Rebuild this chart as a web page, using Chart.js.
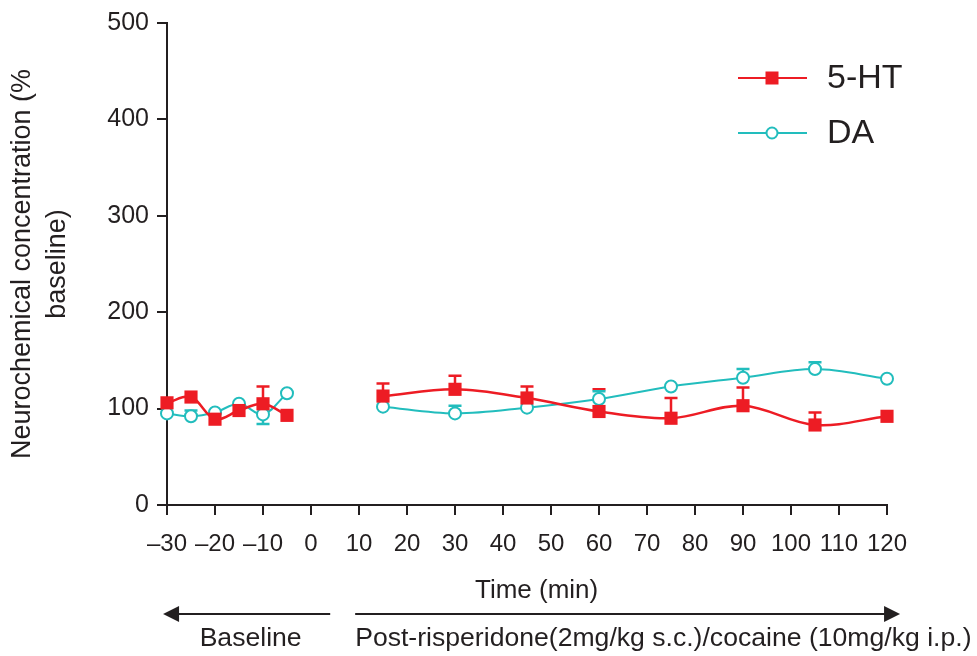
<!DOCTYPE html>
<html>
<head>
<meta charset="utf-8">
<script src="https://cdn.jsdelivr.net/npm/chart.js@4.4.0/dist/chart.umd.min.js"></script>
<style>
html,body{margin:0;padding:0;background:#fff;}
#wrap{width:977px;height:656px;position:relative;}
</style>
</head>
<body>
<div id="wrap"><canvas id="c" width="977" height="656"></canvas></div>
<script>
// ---- data ----
const baselineTimes = [-30, -25, -20, -15, -10, -5];
const postTimes = [15, 30, 45, 60, 75, 90, 105, 120];
const ht5Baseline = [106, 112, 89, 98, 105, 93];
const ht5Post = [113, 120, 111, 97, 90, 103, 83, 92];
const ht5UpperBaseline = [null, null, null, null, 123, null];
const ht5UpperPost = [126, 134, 123, 120, 111, 122, 96, null];
const daBaseline = [95, 92, 96, 105, 94, 116];
const daPost = [102, 95, 101, 110, 123, 132, 141, 131];
const daUpperBaseline = [null, 98, null, null, null, null];
const daUpperPost = [null, 103, null, 118, null, 141, 148, null];
const daLowerBaseline = [null, null, null, null, 84, null];
const daLowerPost = [null, null, null, null, null, null, null, null];
const yTicks = [0, 100, 200, 300, 400, 500];
const seriesNames = ['5-HT', 'DA'];
const periodLabels = ['Baseline', 'Post-risperidone(2mg/kg s.c.)/cocaine (10mg/kg i.p.)'];
const xTitle = 'Time (min)';
const yTitle = ['Neurochemical concentration (%', 'baseline)'];

const RED = '#ED1C24';
const TEAL = '#22BDBD';
const INK = '#231F20';
const FONT = 'Liberation Sans, Arial, Helvetica, sans-serif';

function buildPoints(bt, bv, pt, pv) {
  const pts = bt.map((t, i) => ({x: t, y: bv[i]}));
  pts.push({x: (bt[bt.length - 1] + pt[0]) / 2, y: null}); // break between periods
  pt.forEach((t, i) => pts.push({x: t, y: pv[i]}));
  return pts;
}
function buildErr(bt, bv, pt, pv) {
  const out = [];
  bt.forEach((t, i) => { if (bv[i] != null) out.push({x: t, v: bv[i]}); });
  pt.forEach((t, i) => { if (pv[i] != null) out.push({x: t, v: pv[i]}); });
  return out;
}

const errBars = [
  {color: RED, pts: buildErr(baselineTimes, ht5UpperBaseline, postTimes, ht5UpperPost), base: buildPoints(baselineTimes, ht5Baseline, postTimes, ht5Post)},
  {color: TEAL, pts: buildErr(baselineTimes, daUpperBaseline, postTimes, daUpperPost), base: buildPoints(baselineTimes, daBaseline, postTimes, daPost)},
  {color: TEAL, pts: buildErr(baselineTimes, daLowerBaseline, postTimes, daLowerPost), base: buildPoints(baselineTimes, daBaseline, postTimes, daPost)}
];

const errorBarPlugin = {
  id: 'errorBars',
  beforeDatasetsDraw(chart) {
    const ctx = chart.ctx, xs = chart.scales.x, ys = chart.scales.y;
    ctx.save();
    ctx.lineWidth = 2.5;
    errBars.forEach(eb => {
      ctx.strokeStyle = eb.color;
      eb.pts.forEach(p => {
        const b = eb.base.find(q => q.x === p.x);
        const px = xs.getPixelForValue(p.x);
        const py0 = ys.getPixelForValue(b.y);
        const py1 = ys.getPixelForValue(p.v);
        ctx.beginPath();
        ctx.moveTo(px, py0); ctx.lineTo(px, py1);
        ctx.moveTo(px - 6.5, py1); ctx.lineTo(px + 6.5, py1);
        ctx.stroke();
      });
    });
    ctx.restore();
  }
};

const legendPlugin = {
  id: 'customLegend',
  afterDraw(chart) {
    const ctx = chart.ctx;
    ctx.save();
    const rows = [78, 133];
    chart.data.datasets.forEach((ds, i) => {
      const y = rows[i];
      ctx.strokeStyle = ds.borderColor;
      ctx.lineWidth = 2;
      ctx.beginPath(); ctx.moveTo(738, y); ctx.lineTo(807, y); ctx.stroke();
      if (ds.pointStyle === 'rect') {
        ctx.fillStyle = ds.pointBackgroundColor;
        ctx.fillRect(772 - 6.5, y - 6.5, 13, 13);
      } else {
        ctx.fillStyle = '#fff';
        ctx.beginPath(); ctx.arc(772, y, 5.5, 0, Math.PI * 2); ctx.fill(); ctx.stroke();
      }
      ctx.fillStyle = INK;
      ctx.font = '34px ' + FONT;
      ctx.textAlign = 'left';
      ctx.textBaseline = 'middle';
      ctx.fillText(ds.label, 827, y + 1);
    });
    ctx.restore();
  }
};

const periodPlugin = {
  id: 'periods',
  afterDraw(chart) {
    const ctx = chart.ctx, xs = chart.scales.x;
    const y = 614;
    ctx.save();
    ctx.strokeStyle = INK; ctx.fillStyle = INK; ctx.lineWidth = 2;
    // x axis title
    ctx.font = '26px ' + FONT;
    ctx.textAlign = 'center';
    ctx.textBaseline = 'middle';
    ctx.fillText(xTitle, xs.getPixelForValue(47), 591);
    // left arrow (baseline)
    const l0 = xs.getPixelForValue(-30.4), l1 = xs.getPixelForValue(4);
    ctx.beginPath(); ctx.moveTo(l0 + 10, y); ctx.lineTo(l1, y); ctx.stroke();
    ctx.beginPath(); ctx.moveTo(l0 - 2, y); ctx.lineTo(l0 + 14, y - 8); ctx.lineTo(l0 + 14, y + 8); ctx.closePath(); ctx.fill();
    // right arrow (post)
    const r0 = xs.getPixelForValue(9.2), r1 = xs.getPixelForValue(122.3);
    ctx.beginPath(); ctx.moveTo(r0, y); ctx.lineTo(r1 - 10, y); ctx.stroke();
    ctx.beginPath(); ctx.moveTo(r1 + 2, y); ctx.lineTo(r1 - 14, y - 8); ctx.lineTo(r1 - 14, y + 8); ctx.closePath(); ctx.fill();
    ctx.font = '26.6px ' + FONT;
    ctx.textAlign = 'center';
    ctx.fillText(periodLabels[0], (l0 + l1) / 2 + 3, 639);
    ctx.textAlign = 'left';
    ctx.fillText(periodLabels[1], r0, 639);
    ctx.restore();
  }
};

new Chart(document.getElementById('c'), {
  type: 'line',
  data: {
    datasets: [
      {
        label: seriesNames[0],
        data: buildPoints(baselineTimes, ht5Baseline, postTimes, ht5Post),
        borderColor: RED, backgroundColor: RED,
        pointStyle: 'rect', pointRadius: 9.3, pointHoverRadius: 9.3,
        pointBackgroundColor: RED, pointBorderColor: RED, pointBorderWidth: 0,
        borderWidth: 2.5, tension: 0.35, spanGaps: false, clip: false
      },
      {
        label: seriesNames[1],
        data: buildPoints(baselineTimes, daBaseline, postTimes, daPost),
        borderColor: TEAL, backgroundColor: TEAL,
        pointStyle: 'circle', pointRadius: 6, pointHoverRadius: 6,
        pointBackgroundColor: '#fff', pointBorderColor: TEAL, pointBorderWidth: 2,
        borderWidth: 2, tension: 0.35, spanGaps: false, clip: false
      }
    ]
  },
  options: {
    responsive: false,
    animation: false,
    events: [],
    layout: {padding: {left: 0, top: 22, right: 90, bottom: 0}},
    plugins: {legend: {display: false}, tooltip: {enabled: false}},
    scales: {
      x: {
        type: 'linear', min: -30, max: 120,
        afterFit(s) { s.height = 151; },
        ticks: {
          stepSize: 10, autoSkip: false, maxRotation: 0, color: INK, padding: 15,
          font: {family: FONT, size: 24},
          callback: v => (v < 0 ? '\u2013' + Math.abs(v) : String(v))
        },
        grid: {drawOnChartArea: false, drawTicks: true, tickLength: 10, color: INK, lineWidth: 2},
        border: {display: true, color: INK, width: 2},
        title: {display: false}
      },
      y: {
        min: 0, max: 500,
        afterFit(s) { s.width = 167; },
        afterBuildTicks(s) { s.ticks = yTicks.map(v => ({value: v})); },
        ticks: {color: INK, padding: 8, font: {family: FONT, size: 25}},
        grid: {drawOnChartArea: false, drawTicks: true, tickLength: 10, color: INK, lineWidth: 2},
        border: {display: true, color: INK, width: 2},
        title: {display: true, text: yTitle, color: INK, font: {family: FONT, size: 27, lineHeight: 1.3}, padding: {top: 5, bottom: 0}}
      }
    }
  },
  plugins: [errorBarPlugin, legendPlugin, periodPlugin]
});
</script>
</body>
</html>
